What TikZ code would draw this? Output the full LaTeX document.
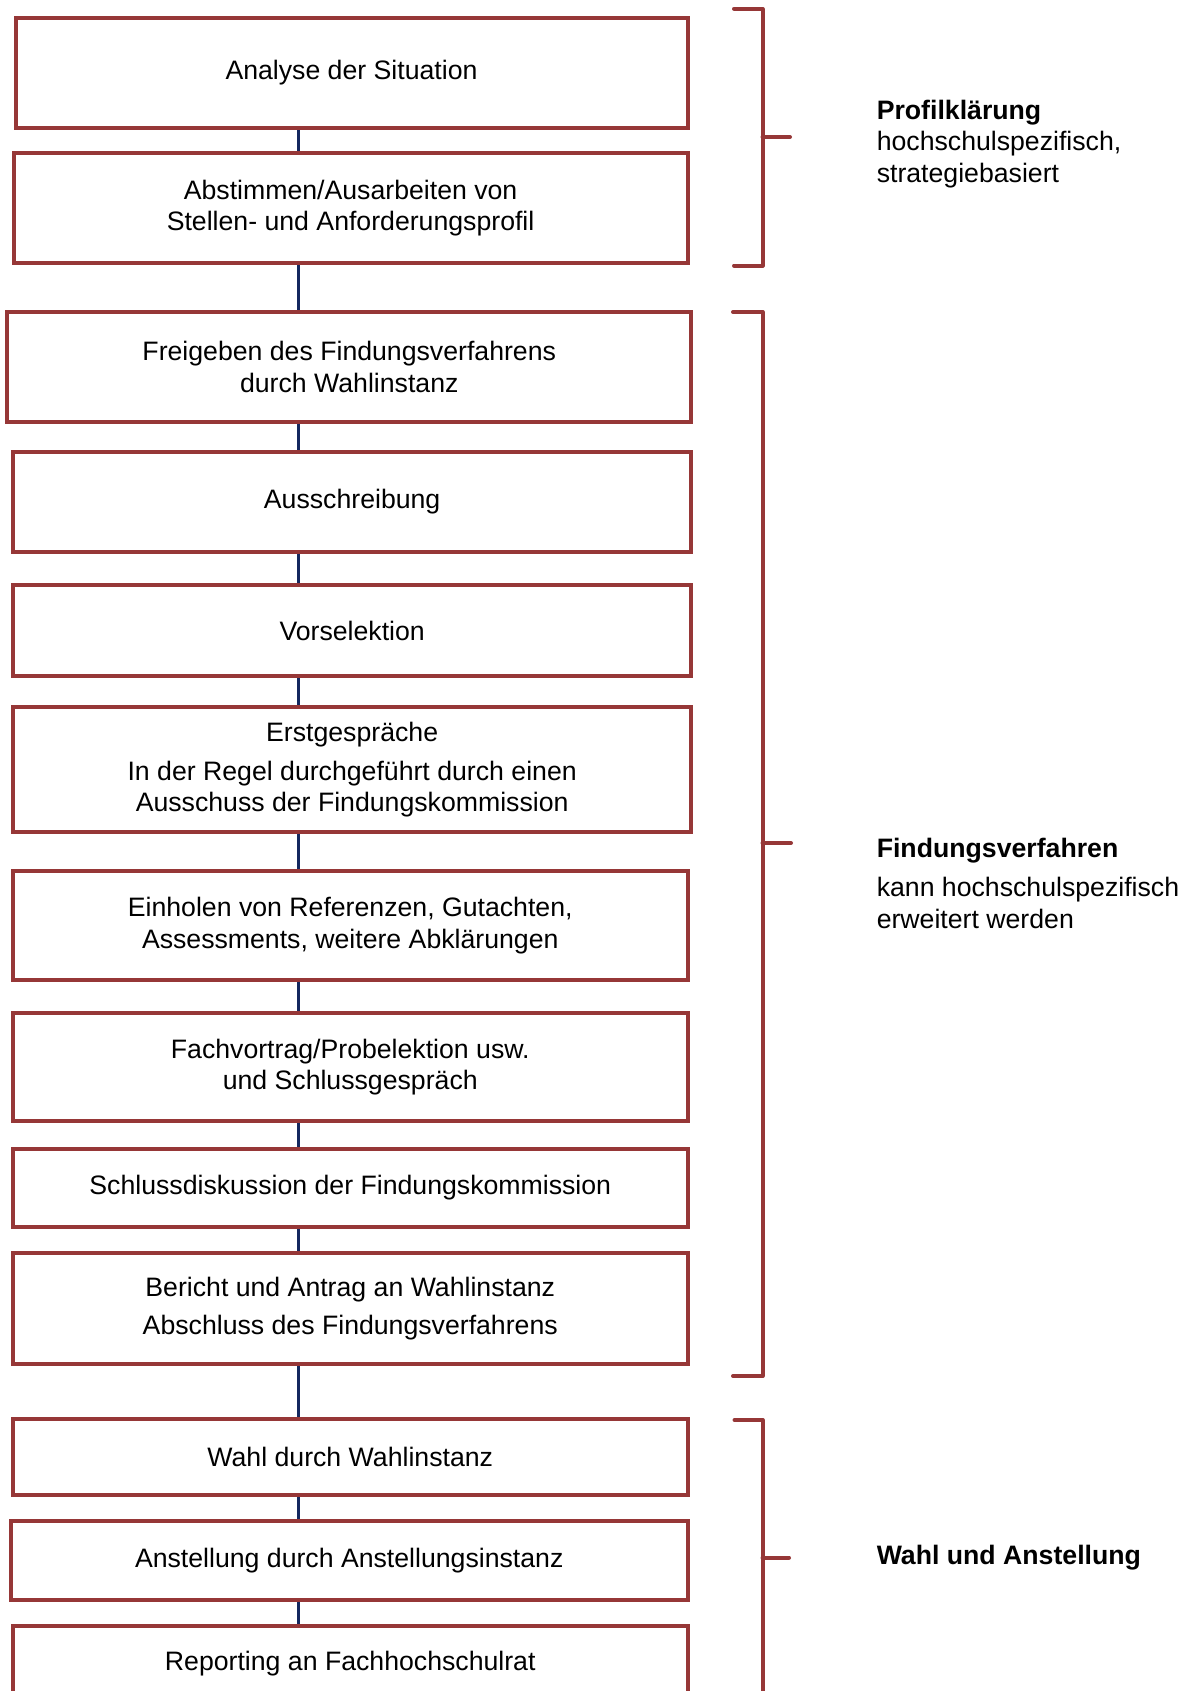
\documentclass[tikz,border=0pt]{standalone}
\usepackage{fontspec}
\setmainfont{Liberation Sans}
\definecolor{boxred}{RGB}{150,55,55}
\definecolor{linkblue}{RGB}{20,40,95}
\newcommand{\stepfont}{\fontsize{20}{23.5}\selectfont}

\begin{document}
\begin{tikzpicture}[x=0.75pt, y=-0.75pt,
	stepbox/.style={draw=boxred, line width=3pt, inner sep=0pt, align=center, font=\stepfont},
	boxsize/.style 2 args={minimum width=0.75pt*#1, minimum height=0.75pt*#2},
	link/.style={draw=linkblue, line width=1.6pt},
	bracket/.style={draw=boxred, line width=3pt, line cap=round, line join=round},
	phase/.style={anchor=base west, align=left, inner sep=0pt, font=\stepfont}]
		\useasboundingbox (0,0) rectangle (1188,1691);
		\coordinate (spine) at (298.5,0);

		% steps
		\node [stepbox, boxsize={672}{110.6}] (analyse) at (351.5,73) {Analyse der Situation};
		\node [stepbox, boxsize={673.8}{110}] (profil) at (350.6,208.3) {Abstimmen/Ausarbeiten von\\Stellen- und Anforderungsprofil};
		\node [stepbox, boxsize={684.1}{110}] (freigabe) at (349.25,367) {Freigeben des Findungsverfahrens\\durch Wahlinstanz};
		\node [stepbox, boxsize={678.3}{100}] (ausschreibung) at (352.15,502) {Ausschreibung};
		\node [stepbox, boxsize={678.3}{91}] (vorselektion) at (352.15,630.5) {Vorselektion};
		\node [stepbox, boxsize={678.3}{125}] (erstgespraeche) at (352.15,769.5) {Erstgespräche\\[6pt]In der Regel durchgeführt durch einen\\Ausschuss der Findungskommission};
		\node [stepbox, boxsize={674.5}{109}] (referenzen) at (350.25,925.5) {Einholen von Referenzen, Gutachten,\\Assessments, weitere Abklärungen};
		\node [stepbox, boxsize={674.5}{108}] (fachvortrag) at (350.25,1067) {Fachvortrag/Probelektion usw.\\und Schlussgespräch};
		\node [stepbox, boxsize={674.5}{78}] (diskussion) at (350.25,1188) {Schlussdiskussion der Findungskommission};
		\node [stepbox, boxsize={674.5}{111.3}] (bericht) at (350.25,1308.6) {Bericht und Antrag an Wahlinstanz\\[5pt]Abschluss des Findungsverfahrens};
		\node [stepbox, boxsize={674.5}{76}] (wahl) at (350.25,1457) {Wahl durch Wahlinstanz};
		\node [stepbox, boxsize={676.5}{79}] (anstellung) at (349.25,1560.5) {Anstellung durch Anstellungsinstanz};
		\node [stepbox, boxsize={674.5}{76}] (reporting) at (350.25,1664) {Reporting an Fachhochschulrat};

		\foreach \a/\b in {analyse/profil, profil/freigabe, freigabe/ausschreibung, ausschreibung/vorselektion, vorselektion/erstgespraeche, erstgespraeche/referenzen, referenzen/fachvortrag, fachvortrag/diskussion, diskussion/bericht, bericht/wahl, wahl/anstellung, anstellung/reporting}{
			\draw [link] (\a.south -| spine) -- (\b.north -| spine);
		}

		% phases
		\draw [bracket] (734,8.7) -- (762.5,8.7) -- (762.5,265.5) -- (734,265.5);
		\draw [bracket] (762.5,137) -- (790,137);
		\draw [bracket] (733,312) -- (762.5,312) -- (762.5,1376) -- (733,1376);
		\draw [bracket] (762.5,843) -- (791,843);
		\draw [bracket] (734.5,1420) -- (762.5,1420) -- (762.5,1700);
		\draw [bracket] (762.5,1557.5) -- (789,1557.5);

		\node [phase] (profilklaerung) at (876.5,182) {\textbf{Profilklärung}\\hochschulspezifisch,\\strategiebasiert};
		\node [phase] (findungsverfahren) at (876.5,928) {\textbf{Findungsverfahren}\\[6pt]kann hochschulspezifisch\\erweitert werden};
		\node [phase] (wahlanstellung) at (876.5,1564) {\textbf{Wahl und Anstellung}};
	\end{tikzpicture}
\end{document}
